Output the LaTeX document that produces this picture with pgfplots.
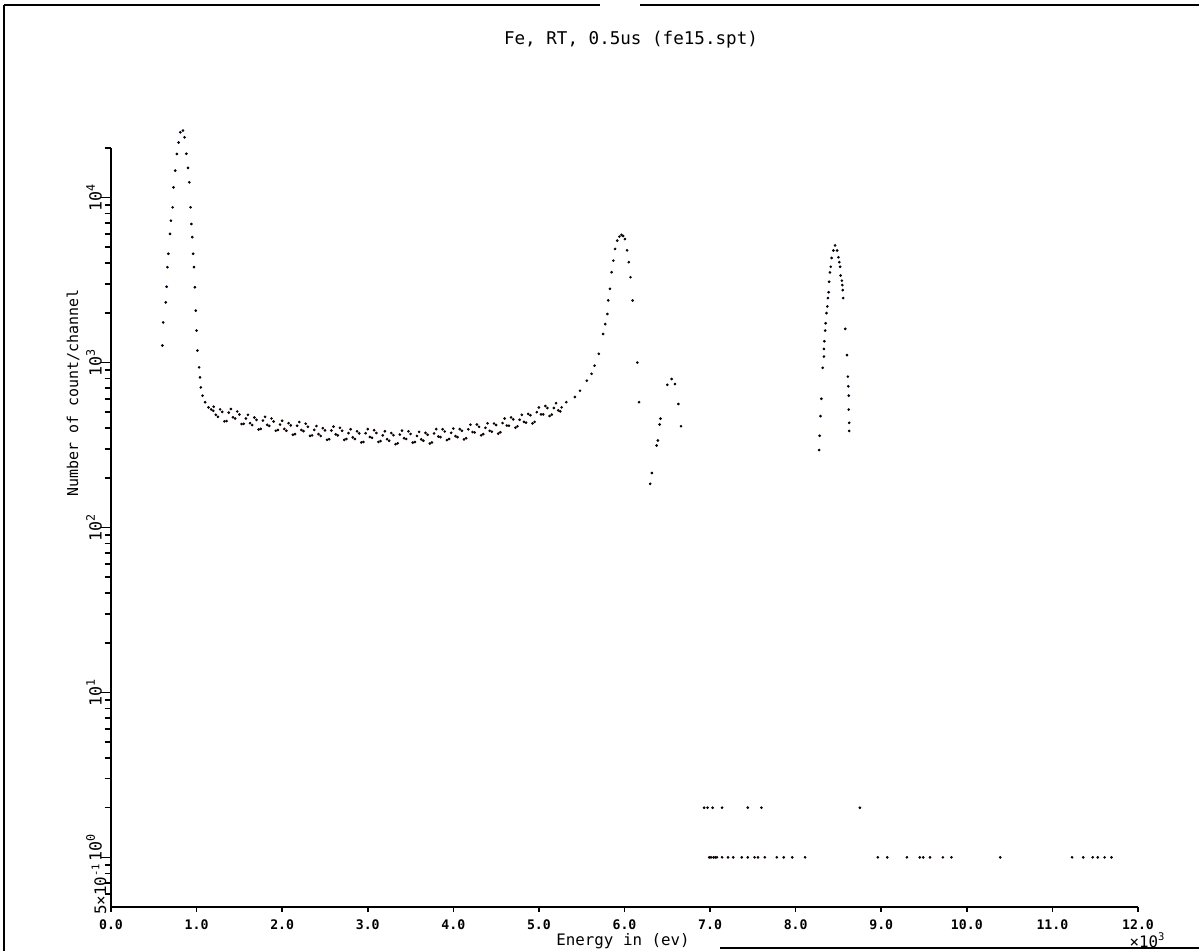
\documentclass[border=0pt]{standalone}
\usepackage{fontspec}
\setmainfont{DejaVu Sans Mono}
\usepackage{pgfplots}
\pgfplotsset{compat=1.18}

\begin{document}
\begin{tikzpicture}
\useasboundingbox (0,0) rectangle (23.98cm,19.02cm);
% scan frame
\draw[line width=1pt] (0.08cm,18.92cm) -- (12.0cm,18.92cm);
\draw[line width=1.3pt] (12.8cm,18.92cm) -- (23.98cm,18.92cm);
\draw[line width=1pt] (0.08cm,18.92cm) -- (0.08cm,0cm);
\draw[line width=1pt] (14.4cm,0.06cm) -- (23.98cm,0.06cm);

\begin{axis}[
  at={(2.22cm,0.88cm)}, anchor=south west,
  scale only axis, width=20.54cm, height=15.18cm,
  ymode=log, xmin=0, xmax=12, ymin=0.5, ymax=20000,
  axis lines*=left,
  axis line style={line width=1pt},
  tick align=outside,
  tick style={black, line width=0.9pt},
  major tick length=0.2cm, minor tick length=0.13cm,
  xtick={0,1,2,3,4,5,6,7,8,9,10,11,12},
  xticklabels={0.0,1.0,2.0,3.0,4.0,5.0,6.0,7.0,8.0,9.0,10.0,11.0,12.0},
  xtick style={/pgfplots/major tick length=0.1cm},
  xticklabel style={font=\bfseries\fontsize{7.5}{8}\selectfont, yshift=0.06cm},
  ytick={1,10,100,1000,10000},
  yticklabels={\hspace*{0.4cm}10\textsuperscript{0},10\textsuperscript{1},10\textsuperscript{2},10\textsuperscript{3},10\textsuperscript{4}},
  minor ytick={0.6,0.7,0.8,0.9,2,3,4,5,6,7,8,9,20,30,40,50,60,70,80,90,200,300,400,500,600,700,800,900,2000,3000,4000,5000,6000,7000,8000,9000,20000},
  yticklabel style={rotate=90, anchor=south, yshift=-0.14cm, font=\fontsize{9.5}{10}\selectfont},
  clip=false,
  every axis plot post/.append style={black, only marks, mark=*, mark size=0.55pt},
]
% low-energy noise peak
\addplot coordinates {
(0.60,1268)(0.61,1750)(0.64,2316)(0.65,2885)(0.66,3785)(0.67,4570)(0.69,6030)(0.70,7250)
(0.72,8730)(0.73,11550)(0.75,14580)(0.77,18400)(0.79,21600)(0.81,24900)(0.84,25500)
(0.86,23200)(0.88,18450)(0.90,15150)(0.915,12380)(0.93,8730)(0.94,6920)(0.95,5760)
(0.96,4570)(0.97,3790)(0.98,2860)(0.99,2065)(1.00,1563)(1.01,1183)(1.03,935)(1.04,813)
(1.05,707)(1.07,630)(1.10,575)(1.14,535)(1.17,520)(1.195,510)
};
% background band
\addplot+[mark size=0.65pt] coordinates {
(1.20,540)(1.25,469)(1.30,502)(1.35,442)(1.40,523)(1.45,458)(1.50,484)(1.55,425)
(1.60,482)(1.65,418)(1.70,449)(1.75,396)(1.80,469)(1.85,413)(1.90,439)(1.95,390)
(2.00,444)(2.05,386)(2.10,416)(2.15,368)(2.20,436)(2.25,384)(2.30,408)(2.35,362)
(2.40,412)(2.45,359)(2.50,388)(2.55,343)(2.60,409)(2.65,362)(2.70,386)(2.75,344)
(2.80,394)(2.85,344)(2.90,372)(2.95,330)(3.00,395)(3.05,350)(3.10,374)(3.15,334)
(3.20,383)(3.25,336)(3.30,363)(3.35,324)(3.40,387)(3.45,344)(3.50,369)(3.55,330)
(3.60,380)(3.65,336)(3.70,365)(3.75,328)(3.80,395)(3.85,353)(3.90,382)(3.95,344)
(4.00,398)(4.05,353)(4.10,386)(4.15,348)(4.20,420)(4.25,377)(4.30,408)(4.35,368)
(4.40,428)(4.45,381)(4.50,418)(4.55,378)(4.60,458)(4.65,414)(4.70,452)(4.75,411)
(4.80,482)(4.85,432)(4.90,479)(4.95,437)(5.00,534)(5.05,485)(5.10,530)(5.15,484)
(5.20,567)(5.25,506)
(1.225,482)(1.275,520)(1.325,440)(1.375,497)(1.425,466)(1.475,505)(1.525,424)(1.575,458)
(1.625,429)(1.675,464)(1.725,393)(1.775,445)(1.825,419)(1.875,458)(1.925,386)(1.975,421)
(2.025,396)(2.075,429)(2.125,365)(2.175,414)(2.225,390)(2.275,426)(2.325,359)(2.375,391)
(2.425,368)(2.475,400)(2.525,340)(2.575,387)(2.625,367)(2.675,402)(2.725,340)(2.775,373)
(2.825,352)(2.875,383)(2.925,328)(2.975,373)(3.025,354)(3.075,389)(3.125,330)(3.175,362)
(3.225,343)(3.275,374)(3.325,320)(3.375,366)(3.425,348)(3.475,383)(3.525,327)(3.575,359)
(3.625,342)(3.675,375)(3.725,323)(3.775,372)(3.825,356)(3.875,394)(3.925,339)(3.975,375)
(4.025,358)(4.075,395)(4.125,342)(4.175,394)(4.225,379)(4.275,421)(4.325,362)(4.375,402)
(4.425,386)(4.475,427)(4.525,371)(4.575,430)(4.625,415)(4.675,465)(4.725,403)(4.775,450)
(4.825,437)(4.875,488)(4.925,428)(4.975,500)(5.025,485)(5.075,545)(5.125,474)(5.175,530)
(5.225,513)
};
% main peak near 5.9
\addplot coordinates {
(5.265,535)(5.32,575)(5.42,618)(5.48,675)(5.56,777)(5.615,855)(5.65,957)(5.70,1130)
(5.75,1490)(5.775,1710)(5.80,1970)(5.81,2380)(5.83,2800)(5.85,3530)(5.87,4150)(5.89,4890)
(5.915,5490)(5.94,5800)(5.965,5940)(5.985,5850)(6.005,5610)(6.03,4790)(6.05,4060)(6.07,3290)
(6.095,2380)(6.15,1000)(6.17,575)
};
% small peak near 6.5
\addplot coordinates {
(6.30,184)(6.32,214)(6.375,314)(6.39,337)(6.41,421)(6.42,457)(6.50,733)(6.55,795)
(6.59,741)(6.63,561)(6.66,411)
};
% peak near 8.45
\addplot coordinates {
(8.275,295)(8.28,360)(8.29,473)(8.30,603)(8.315,929)(8.33,1087)(8.33,1210)(8.335,1347)
(8.345,1563)(8.35,1730)(8.36,1995)(8.37,2190)(8.377,2460)(8.385,2670)(8.39,3090)(8.40,3520)
(8.41,3810)(8.42,4310)(8.44,4780)(8.46,5130)(8.485,4780)(8.50,4350)(8.51,4060)(8.52,3810)
(8.525,3370)(8.54,3140)(8.545,2950)(8.55,2750)(8.555,2460)(8.58,1600)(8.60,1110)(8.61,822)
(8.615,718)(8.62,630)(8.62,519)(8.625,431)(8.625,385)
};
% single counts
\addplot coordinates {
(6.93,2)(6.97,2)(7.03,2)(7.14,2)(7.44,2)(7.60,2)(8.75,2)
(6.99,1)(7.01,1)(7.04,1)(7.06,1)(7.08,1)(7.14,1)(7.21,1)(7.27,1)(7.37,1)(7.44,1)(7.52,1)
(7.56,1)(7.64,1)(7.78,1)(7.86,1)(7.96,1)(8.11,1)(8.96,1)(9.07,1)(9.30,1)(9.45,1)(9.49,1)
(9.57,1)(9.72,1)(9.82,1)(10.39,1)(11.23,1)(11.36,1)(11.47,1)(11.53,1)(11.61,1)(11.69,1)
};
\end{axis}

\node[font=\fontsize{10}{12}\selectfont] at (12.62cm,18.22cm) {Fe, RT, 0.5us (fe15.spt)};
\node[font=\fontsize{9}{11}\selectfont] at (12.46cm,0.2cm) {Energy in (ev)};
\node[font=\fontsize{8.5}{10}\selectfont, rotate=90] at (1.46cm,11.16cm) {Number of count/channel};
\node[font=\fontsize{9}{10}\selectfont, rotate=90] at (1.98cm,1.24cm) {5×10\textsuperscript{-1}};
\node[font=\fontsize{9}{10}\selectfont] at (22.95cm,0.22cm) {×10\textsuperscript{3}};
\end{tikzpicture}
\end{document}
